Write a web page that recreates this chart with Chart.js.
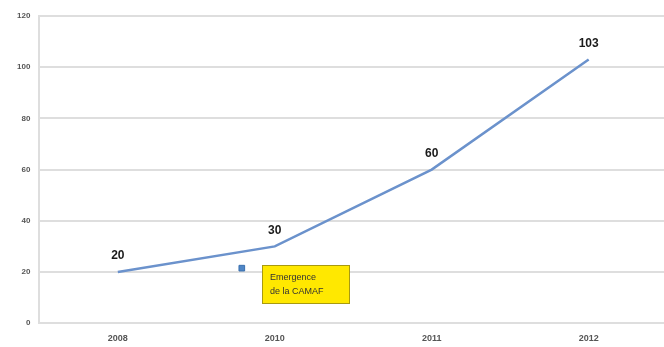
<!DOCTYPE html>
<html><head><meta charset="utf-8">
<script src="https://cdn.jsdelivr.net/npm/chart.js@4/dist/chart.umd.min.js"></script>
<style>html,body{margin:0;padding:0;background:#fff}#wrap{width:664px;height:347px}</style>
</head><body><div id="wrap"><canvas id="c" width="664" height="347"></canvas></div>
<script>
const categories = ['2008', '2010', '2011', '2012'];
const values = [20, 30, 60, 103];
const yTicks = [0, 20, 40, 60, 80, 100, 120];
const markerPoint = [{x: 0.79, y: 21.5}];
const noteLines = ['Emergence', 'de la CAMAF'];
const notePos = {x: 0.92, y: 22.7};

const lineData = values.map((v, i) => ({x: i, y: v}));

const labelPlugin = {
  id: 'labels',
  afterDatasetsDraw(chart) {
    const ctx = chart.ctx;
    const meta = chart.getDatasetMeta(0);
    ctx.save();
    ctx.font = 'bold 12px "Liberation Sans", Arial, sans-serif';
    ctx.fillStyle = '#1a1a1a';
    ctx.textAlign = 'center';
    ctx.textBaseline = 'middle';
    meta.data.forEach((p, i) => {
      ctx.fillText(String(values[i]), p.x, p.y - 16);
    });
    const xs = chart.scales.x, ys = chart.scales.y;
    const bx = Math.round(xs.getPixelForValue(notePos.x)), by = Math.round(ys.getPixelForValue(notePos.y));
    const w = 88, h = 39;
    ctx.fillStyle = '#ffe800';
    ctx.fillRect(bx, by, w, h);
    ctx.strokeStyle = '#a89a10';
    ctx.lineWidth = 1;
    ctx.strokeRect(bx + 0.5, by + 0.5, w - 1, h - 1);
    ctx.fillStyle = '#333';
    ctx.font = '9px "Liberation Sans", Arial, sans-serif';
    ctx.textAlign = 'left';
    ctx.fillText(noteLines[0], bx + 8, by + 13);
    ctx.fillText(noteLines[1], bx + 8, by + 27);
    ctx.restore();
  }
};

new Chart(document.getElementById('c'), {
  type: 'scatter',
  data: {
    datasets: [{
      type: 'line',
      data: lineData,
      borderColor: '#6b92cc',
      borderWidth: 2.5,
      pointRadius: 0,
      tension: 0,
      fill: false
    }, {
      data: markerPoint,
      pointStyle: 'rect',
      pointRadius: 4,
      backgroundColor: '#4f86c6',
      borderColor: '#3a6fae',
      borderWidth: 1
    }]
  },
  options: {
    responsive: false,
    animation: false,
    layout: {autoPadding: false, padding: {left: 8, right: 0, top: 16, bottom: -7}},
    plugins: {legend: {display: false}, tooltip: {enabled: false}},
    scales: {
      x: {
        type: 'linear',
        min: -0.5, max: 3.48,
        afterBuildTicks(axis) { axis.ticks = categories.map((c, i) => ({value: i})); },
        grid: {display: false, drawTicks: false},
        border: {display: false},
        ticks: {color: '#555', autoSkip: false, maxRotation: 0,
          callback: (v) => categories[v],
          font: {size: 9, weight: 'bold', family: '"Liberation Sans", Arial, sans-serif'}, padding: 10}
      },
      y: {
        min: 0, max: 120,
        afterBuildTicks(axis) { axis.ticks = yTicks.map(v => ({value: v})); },
        grid: {color: '#dedede', lineWidth: 2, drawTicks: false},
        border: {display: true, color: '#dedede', width: 2},
        ticks: {color: '#555', font: {size: 8, weight: 'bold', family: '"Liberation Sans", Arial, sans-serif'}, padding: 9}
      }
    }
  },
  plugins: [labelPlugin]
});
</script></body></html>
